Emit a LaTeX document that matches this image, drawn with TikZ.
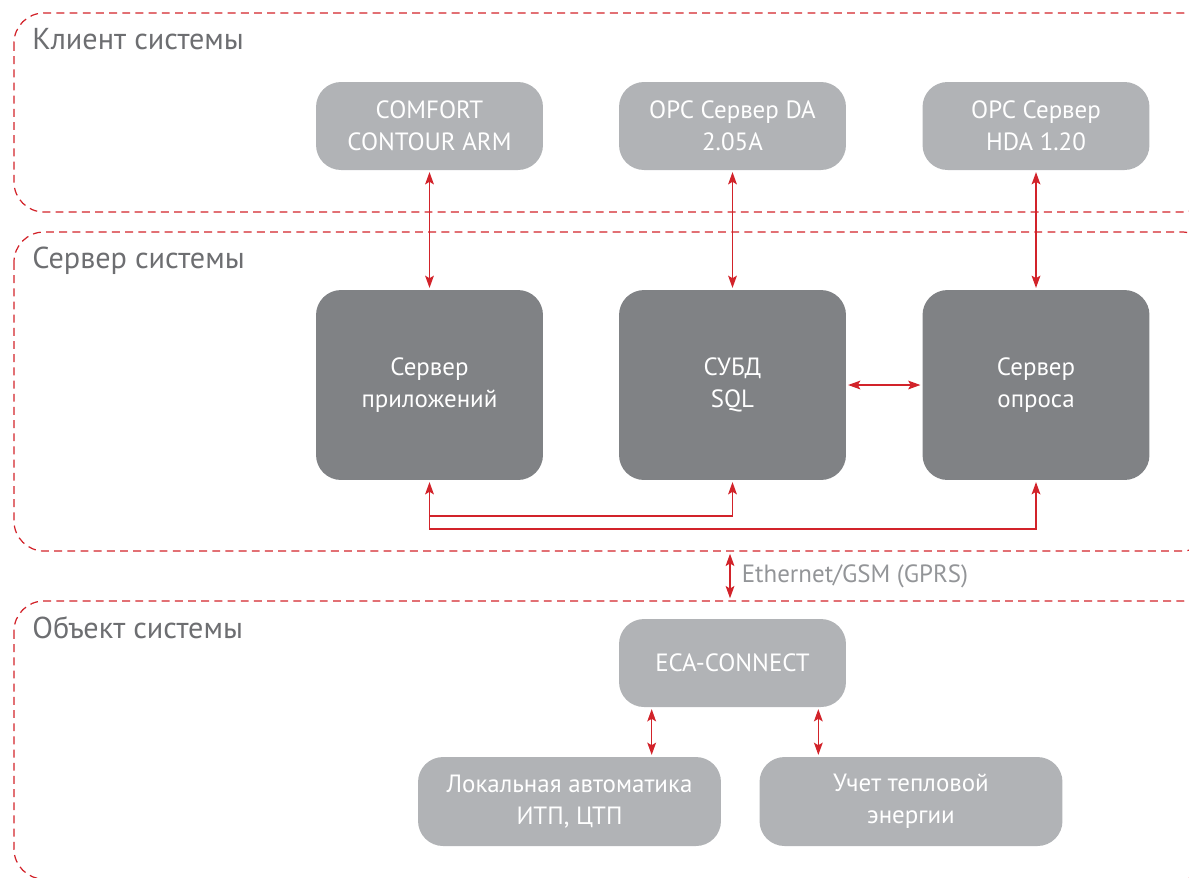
\documentclass[tikz,border=0pt]{standalone}
\usepackage{fontspec}
\setmainfont{PT Sans}
\usetikzlibrary{arrows.meta,calc}

\definecolor{linkRed}{HTML}{D2232A}
\definecolor{boxLight}{HTML}{B1B3B6}
\definecolor{boxDark}{HTML}{808285}
\definecolor{titleGray}{HTML}{6D6E71}
\definecolor{labelGray}{HTML}{939598}

\begin{document}
\begin{tikzpicture}
[x=0.02cm,y=-0.02cm,
  regionDecorate/.style={draw=linkRed,line width=0.7pt,dash pattern=on 4.5pt off 3pt,rounded corners=0.6cm},
  titleDecorate/.style={anchor=base west,inner sep=0pt,text=titleGray,font=\fontsize{17.2}{20}\selectfont},
  lightDecorate/.style={fill=boxLight,rounded corners=0.5cm,text=white,align=center,
    minimum width=4.54cm,minimum height=1.76cm,font=\fontsize{14.2}{18}\selectfont},
  darkDecorate/.style={lightDecorate,fill=boxDark,minimum height=3.8cm},
  wideDecorate/.style={lightDecorate,minimum width=6.06cm,minimum height=1.78cm},
  lineDecorate/.style={draw=linkRed,line width=0.75pt},
  arrowDecorate/.style={lineDecorate,shorten <=1pt,shorten >=1pt,
    {Stealth[length=7pt,width=5pt,inset=1.5pt]}-{Stealth[length=7pt,width=5pt,inset=1.5pt]}},
  scale=1]
\useasboundingbox (0,0) rectangle (1189,877);
\clip (0,0) rectangle (1189,877);
%% regions
\draw[regionDecorate] (14,13) rectangle (1212,212);
\draw[regionDecorate] (14,232) rectangle (1212,551);
\draw[regionDecorate] (14,601) rectangle (1212,879);
\node (clientTitle) at (32,49) [titleDecorate] {Клиент системы};
\node (serverTitle) at (32,268) [titleDecorate] {Сервер системы};
\node (objectTitle) at (32,638) [titleDecorate] {Объект системы};
%% boxes
\foreach \nodename/\x/\y/\txt in {
  comfort/429.5/126/{COMFORT\\CONTOUR ARM},
  opcda/732.5/126/{OPC Сервер DA\\2.05A},
  opchda/1036/126/{OPC Сервер\\HDA 1.20},
  eca/732.5/663/{ECA-CONNECT}}
{
  \node (\nodename) at (\x,\y) [lightDecorate] {\txt};
}
\foreach \nodename/\x/\y/\txt in {
  appsrv/429.5/385/{Сервер\\приложений},
  dbms/732.5/385/{СУБД\\SQL},
  pollsrv/1036/385/{Сервер\\опроса}}
{
  \node (\nodename) at (\x,\y) [darkDecorate] {\txt};
}
\node (localauto) at (569.5,801.5) [wideDecorate] {Локальная автоматика\\ИТП, ЦТП};
\node (heatmeter) at (911,801.5) [wideDecorate] {Учет тепловой\\энергии};
%% links
\path
\foreach \startnode/\endnode in {comfort/appsrv, opcda/dbms, opchda/pollsrv}
{
  (\startnode.south) edge[arrowDecorate] (\endnode.north)
};
\draw[arrowDecorate] (dbms.east) -- (pollsrv.west);
\coordinate (busHigh) at (0,516);
\coordinate (busLow) at (0,529);
\draw[lineDecorate,shorten <=1pt,shorten >=1pt,
  {Stealth[length=7pt,width=5pt,inset=1.5pt]}-{Stealth[length=7pt,width=5pt,inset=1.5pt]}]
  (appsrv.south) -- (appsrv.south |- busLow) -- (pollsrv.south |- busLow) -- (pollsrv.south);
\draw[lineDecorate,shorten >=1pt,-{Stealth[length=7pt,width=5pt,inset=1.5pt]}]
  (appsrv.south |- busHigh) -- (dbms.south |- busHigh) -- (dbms.south);
\coordinate (ethTop) at (730,552);
\coordinate (ethBottom) at (730,600);
\draw[arrowDecorate] (ethTop) -- (ethBottom)
  node (ethLabel) [midway,right=3pt,text=labelGray,font=\fontsize{14.2}{16}\selectfont] {Ethernet/GSM (GPRS)};
\coordinate (ecaLeft) at ($(eca.south west)+(33,0)$);
\coordinate (ecaRight) at ($(eca.south east)+(-28,0)$);
\draw[arrowDecorate] (ecaLeft) -- (ecaLeft |- localauto.north);
\draw[arrowDecorate] (ecaRight) -- (ecaRight |- heatmeter.north);
\end{tikzpicture}
\end{document}
